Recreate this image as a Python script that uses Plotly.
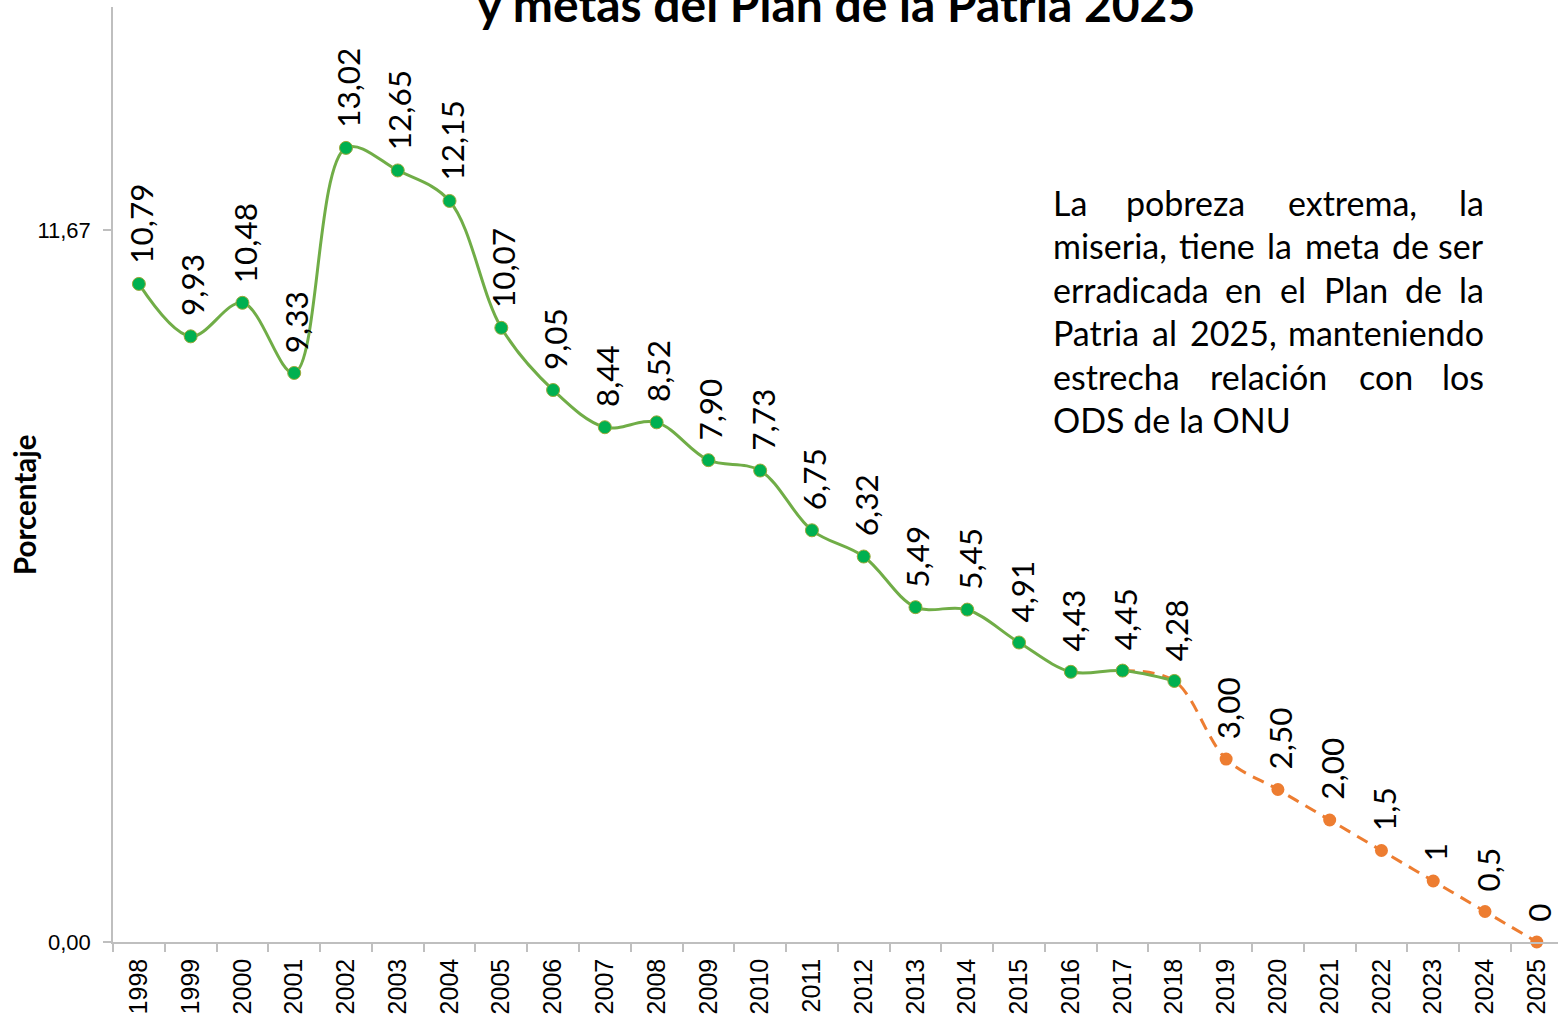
import plotly.graph_objects as go

# ---- data -------------------------------------------------------------
years_real = [str(y) for y in range(1998, 2019)]
pobreza_real = [10.79, 9.93, 10.48, 9.33, 13.02, 12.65, 12.15, 10.07, 9.05, 8.44,
                8.52, 7.90, 7.73, 6.75, 6.32, 5.49, 5.45, 4.91, 4.43, 4.45, 4.28]
labels_real = ["10,79", "9,93", "10,48", "9,33", "13,02", "12,65", "12,15", "10,07",
               "9,05", "8,44", "8,52", "7,90", "7,73", "6,75", "6,32", "5,49",
               "5,45", "4,91", "4,43", "4,45", "4,28"]

years_meta = [str(y) for y in range(2017, 2026)]
pobreza_meta = [4.45, 4.28, 3.00, 2.50, 2.00, 1.5, 1, 0.5, 0]
labels_meta = ["3,00", "2,50", "2,00", "1,5", "1", "0,5", "0"]   # 2019-2025

all_years = [str(y) for y in range(1998, 2026)]
ytick_vals = [0, 11.67]
ytick_text = ["0,00", "11,67"]

title_text = "y metas del Plan de la Patria 2025"
yaxis_title = "Porcentaje"
note_lines = [
    "La pobreza extrema, la",
    "miseria, tiene la meta de ser",
    "erradicada en el Plan de la",
    "Patria al 2025, manteniendo",
    "estrecha relación con los",
    "ODS de la ONU",
]

# ---- layout geometry (pixels) -----------------------------------------
W, H = 1558, 1019
ML, MR, MT, MB = 113, 0, 7, 77
PW, PH = W - ML - MR, H - MT - MB
Y_MAX = 15.33
X_RANGE = [-0.5, 27.41]


def px_x(X):
    return (X - ML) / PW


def px_y(Y):
    return (H - MB - Y) / PH


GREEN_LINE = "#70AD47"
GREEN_MARK = "#00B050"
ORANGE = "#ED7D31"
AXIS_GRAY = "#BFBFBF"
LABEL_FONT = "Lato"

fig = go.Figure()

# projected goals (dashed orange), drawn under the observed series
fig.add_trace(go.Scatter(
    x=years_meta, y=pobreza_meta, mode="lines",
    line=dict(color=ORANGE, width=3, dash="12px,8px", shape="spline", smoothing=1),
    cliponaxis=False, showlegend=False, hoverinfo="skip",
))
fig.add_trace(go.Scatter(
    x=years_meta[2:], y=pobreza_meta[2:], mode="markers",
    marker=dict(color=ORANGE, size=13, opacity=1, line=dict(width=0)),
    cliponaxis=False, showlegend=False, hoverinfo="x+y",
))

# observed extreme poverty (green)
fig.add_trace(go.Scatter(
    x=years_real, y=pobreza_real, mode="lines+markers",
    line=dict(color=GREEN_LINE, width=3, shape="spline", smoothing=1),
    marker=dict(color=GREEN_MARK, size=13, opacity=1, line=dict(color="#9BA83A", width=1)),
    cliponaxis=False, showlegend=False, hoverinfo="x+y",
))

annotations = []

# vertical value labels above each point (x given as category index)
for x, y, t in list(zip(years_real, pobreza_real, labels_real)) + \
        list(zip(years_meta[2:], pobreza_meta[2:], labels_meta)):
    annotations.append(dict(
        x=all_years.index(x), y=y, xref="x", yref="y", text=t, showarrow=False,
        textangle=-90, xanchor="center", yanchor="bottom", yshift=18, xshift=2,
        font=dict(family=LABEL_FONT, size=31.5, color="#000000"),
    ))

# title (second line of the heading, partially above the page edge)
annotations.append(dict(
    x=px_x(836), y=px_y(34), xref="paper", yref="paper",
    text="<b>" + title_text + "</b>", showarrow=False,
    xanchor="center", yanchor="bottom",
    font=dict(family=LABEL_FONT, size=48, color="#000000"),
))

# y axis title
annotations.append(dict(
    x=px_x(24), y=px_y(505), xref="paper", yref="paper",
    text="<b>" + yaxis_title + "</b>", showarrow=False, textangle=-90,
    xanchor="center", yanchor="middle",
    font=dict(family=LABEL_FONT, size=29.5, color="#000000"),
))

# justified note text: words spread between left and right edges
CW = {" ": 226, ",": 250, "L": 420, "P": 517, "O": 662, "D": 615, "S": 459,
      "N": 646, "U": 653, "a": 479, "b": 525, "c": 423, "d": 525, "e": 498,
      "h": 525, "i": 229, "l": 229, "m": 799, "n": 525, "o": 527, "p": 525,
      "r": 349, "s": 391, "t": 335, "x": 433, "z": 395, "ó": 527, "y": 453}
for d in "0123456789":
    CW[d] = 507
EM = 0.036
NOTE_L, NOTE_R = 1051, 1486
NOTE_BASE0, NOTE_STEP = 215, 43.5
NOTE_SIZE = 34


def word_w(w):
    return sum(CW.get(c, 500) for c in w) * EM


for i, line in enumerate(note_lines):
    yc = NOTE_BASE0 + i * NOTE_STEP - 0.37 * NOTE_SIZE
    font = dict(family=LABEL_FONT, size=NOTE_SIZE, color="#000000")
    if i == len(note_lines) - 1:
        annotations.append(dict(x=px_x(NOTE_L), y=px_y(yc), xref="paper", yref="paper",
                                text=line, showarrow=False, xanchor="left",
                                yanchor="middle", font=font))
        continue
    words = line.split(" ")
    widths = [word_w(w) for w in words]
    gap = (NOTE_R - NOTE_L - sum(widths)) / (len(words) - 1)
    xpos = NOTE_L
    for j, (w, ww) in enumerate(zip(words, widths)):
        if j == 0:
            xa, xx = "left", NOTE_L
        elif j == len(words) - 1:
            xa, xx = "right", NOTE_R
        else:
            xa, xx = "center", xpos + ww / 2
        annotations.append(dict(x=px_x(xx), y=px_y(yc), xref="paper", yref="paper",
                                text=w, showarrow=False, xanchor=xa,
                                yanchor="middle", font=font))
        xpos += ww + gap

fig.update_layout(
    width=W, height=H,
    margin=dict(l=ML, r=MR, t=MT, b=MB, pad=0),
    paper_bgcolor="white", plot_bgcolor="white",
    annotations=annotations,
    showlegend=False,
    xaxis=dict(
        type="category", categoryorder="array", categoryarray=all_years,
        range=X_RANGE, showgrid=False, zeroline=False,
        showline=True, linecolor=AXIS_GRAY, linewidth=1.5,
        ticks="outside", tickson="boundaries", ticklen=8, tickcolor=AXIS_GRAY,
        tickwidth=1.5, tickangle=-90, ticklabelstandoff=5,
        tickfont=dict(family="Liberation Sans", size=25, color="#000000"),
    ),
    yaxis=dict(
        range=[0, Y_MAX], showgrid=False, zeroline=False,
        showline=True, linecolor=AXIS_GRAY, linewidth=1.5,
        ticks="outside", ticklen=8, tickcolor=AXIS_GRAY, tickwidth=1.5,
        tickvals=ytick_vals, ticktext=ytick_text, ticklabelstandoff=8,
        tickfont=dict(family="Liberation Sans", size=22, color="#000000"),
    ),
)

fig.write_html("out.html")
